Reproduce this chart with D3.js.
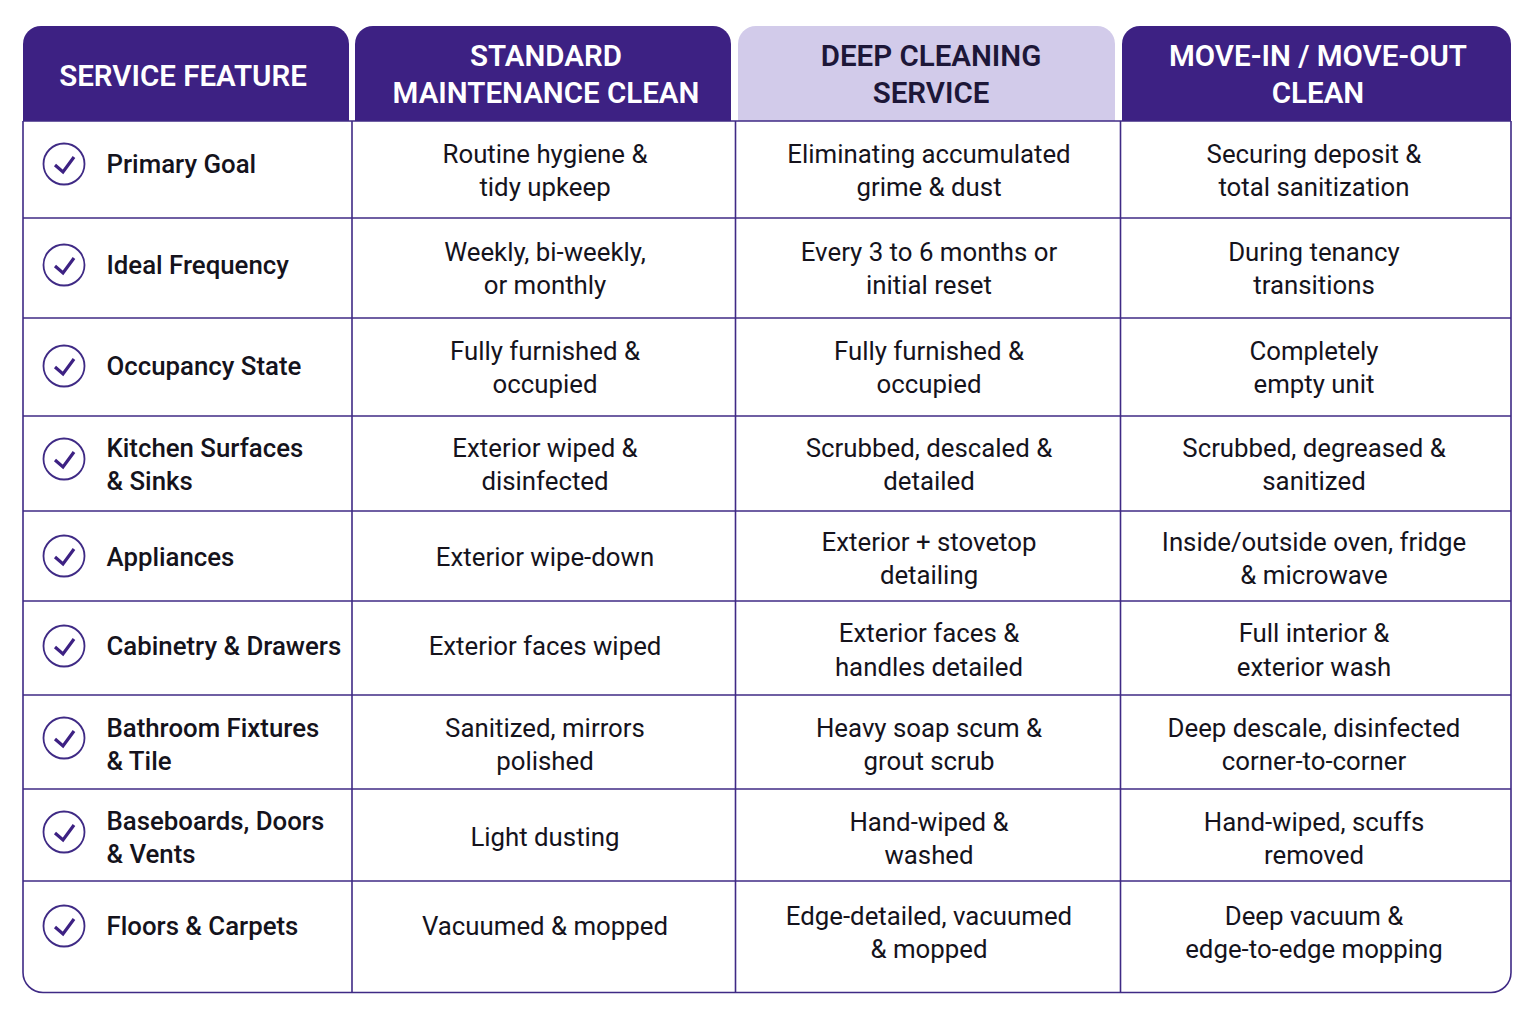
<!DOCTYPE html>
<html>
<head>
<meta charset="utf-8">
<script src="https://cdn.jsdelivr.net/npm/d3@7"></script>
<style>
  html, body { margin: 0; padding: 0; background: #fff; }
  svg { display: block; }
  text { font-family: Roboto, "Noto Sans", sans-serif; text-anchor: middle; }
</style>
</head>
<body>
<div id="chart"></div>
<script>
const columns = [
  ["SERVICE FEATURE"],
  ["STANDARD", "MAINTENANCE CLEAN"],
  ["DEEP CLEANING", "SERVICE"],
  ["MOVE-IN / MOVE-OUT", "CLEAN"]
];
const features = [
  ["Primary Goal"],
  ["Ideal Frequency"],
  ["Occupancy State"],
  ["Kitchen Surfaces", "& Sinks"],
  ["Appliances"],
  ["Cabinetry & Drawers"],
  ["Bathroom Fixtures", "& Tile"],
  ["Baseboards, Doors", "& Vents"],
  ["Floors & Carpets"]
];
const standardClean = [
  ["Routine hygiene &", "tidy upkeep"],
  ["Weekly, bi-weekly,", "or monthly"],
  ["Fully furnished &", "occupied"],
  ["Exterior wiped &", "disinfected"],
  ["Exterior wipe-down"],
  ["Exterior faces wiped"],
  ["Sanitized, mirrors", "polished"],
  ["Light dusting"],
  ["Vacuumed & mopped"]
];
const deepClean = [
  ["Eliminating accumulated", "grime & dust"],
  ["Every 3 to 6 months or", "initial reset"],
  ["Fully furnished &", "occupied"],
  ["Scrubbed, descaled &", "detailed"],
  ["Exterior + stovetop", "detailing"],
  ["Exterior faces &", "handles detailed"],
  ["Heavy soap scum &", "grout scrub"],
  ["Hand-wiped &", "washed"],
  ["Edge-detailed, vacuumed", "& mopped"]
];
const moveClean = [
  ["Securing deposit &", "total sanitization"],
  ["During tenancy", "transitions"],
  ["Completely", "empty unit"],
  ["Scrubbed, degreased &", "sanitized"],
  ["Inside/outside oven, fridge", "& microwave"],
  ["Full interior &", "exterior wash"],
  ["Deep descale, disinfected", "corner-to-corner"],
  ["Hand-wiped, scuffs", "removed"],
  ["Deep vacuum &", "edge-to-edge mopping"]
];

const width = 1536, height = 1024;
const purple = "#3d2183", line = "#3f2a85", ink = "#15131c";

const tabs = [[23, 349], [355, 731], [738, 1115], [1122, 1511]];
const colRules = [352, 735.5, 1120.5];
const rowRules = [218, 318, 416, 511, 601, 695, 789, 881];
const tableTop = 121, tableBottom = 992.5, left = 23, right = 1511;
const rowIdx = d3.range(features.length);

const labelMid = d3.scaleOrdinal().domain(rowIdx).range([164, 265, 366, 464, 557, 646, 744, 837, 926]);
const iconMid = d3.scaleOrdinal().domain(rowIdx).range([164, 265, 366, 459, 556, 646, 738, 832, 926]);
const cellMid = d3.scaleOrdinal().domain(rowIdx).range([170, 268, 367, 464, 558, 649.5, 744, 838, 932]);
const colMid = d3.scaleOrdinal().domain([0, 1, 2]).range([545, 929, 1314]);

const svg = d3.select("#chart").append("svg").attr("width", width).attr("height", height);

// header tabs
const tabPath = ([x0, x1]) => {
  const r = 18, p = d3.path();
  p.moveTo(x0, tableTop);
  p.lineTo(x0, 26 + r);
  p.arcTo(x0, 26, x0 + r, 26, r);
  p.lineTo(x1 - r, 26);
  p.arcTo(x1, 26, x1, 26 + r, r);
  p.lineTo(x1, tableTop);
  p.closePath();
  return p.toString();
};
svg.append("g").selectAll("path").data(tabs).join("path")
  .attr("d", tabPath)
  .attr("fill", (d, i) => i == 2 ? "#d2cbea" : purple);

// multi line text centred on a y
function lines(g, lh) {
  g.selectAll("tspan").data(d => d.t.map((s, i) => ({s, i, n: d.t.length, x: d.x, y: d.y})))
    .join("tspan")
    .attr("x", d => d.x)
    .attr("y", d => d.y + (d.i - (d.n - 1) / 2) * lh)
    .attr("dy", "0.36em")
    .text(d => d.s);
}

const headerX = [183, 546, 931, 1318];
svg.append("g").selectAll("text").data(columns.map((t, i) => ({t, x: headerX[i], y: i == 0 ? 75 : 74, i})))
  .join("text")
  .attr("font-size", 29.5)
  .attr("font-weight", 600)
  .attr("fill", d => d.i == 2 ? "#1d1738" : "#fff")
  .call(lines, 37);

// grid
const grid = svg.append("g").attr("fill", "none").attr("stroke", line).attr("stroke-width", 1.6);
grid.selectAll("line.row").data(rowRules).join("line").attr("class", "row")
  .attr("x1", left).attr("x2", right).attr("y1", d => d).attr("y2", d => d);
grid.selectAll("line.col").data(colRules).join("line").attr("class", "col")
  .attr("x1", d => d).attr("x2", d => d).attr("y1", tableTop).attr("y2", tableBottom);
grid.append("line").attr("x1", left).attr("x2", right).attr("y1", tableTop).attr("y2", tableTop);
const frame = d3.path(), fr = 20;
frame.moveTo(left, tableTop);
frame.lineTo(left, tableBottom - fr);
frame.arcTo(left, tableBottom, left + fr, tableBottom, fr);
frame.lineTo(right - fr, tableBottom);
frame.arcTo(right, tableBottom, right, tableBottom - fr, fr);
frame.lineTo(right, tableTop);
grid.append("path").attr("d", frame.toString());

// check icons
const icon = svg.append("g").selectAll("g").data(rowIdx).join("g")
  .attr("transform", d => `translate(64,${iconMid(d)})`);
icon.append("circle").attr("r", 20.5).attr("fill", "#fff").attr("stroke", line).attr("stroke-width", 1.8);
icon.append("path").attr("d", "M-9,1L-1,8L10,-7").attr("fill", "none")
  .attr("stroke", purple).attr("stroke-width", 3.2);

// feature labels
svg.append("g").selectAll("text").data(features.map((t, i) => ({t, x: 106.5, y: labelMid(i)})))
  .join("text")
  .attr("font-size", 25.8)
  .attr("font-weight", 500)
  .attr("fill", ink)
  .style("text-anchor", "start")
  .call(lines, 33);

// body cells
[standardClean, deepClean, moveClean].forEach((col, c) => {
  svg.append("g").selectAll("text")
    .data(col.map((t, i) => ({t, x: colMid(c), y: t.length == 1 ? labelMid(i) : cellMid(i)})))
    .join("text")
    .attr("font-size", 25.8)
    .attr("font-weight", 400)
    .attr("fill", ink)
    .call(lines, 33.5);
});
</script>
</body>
</html>
